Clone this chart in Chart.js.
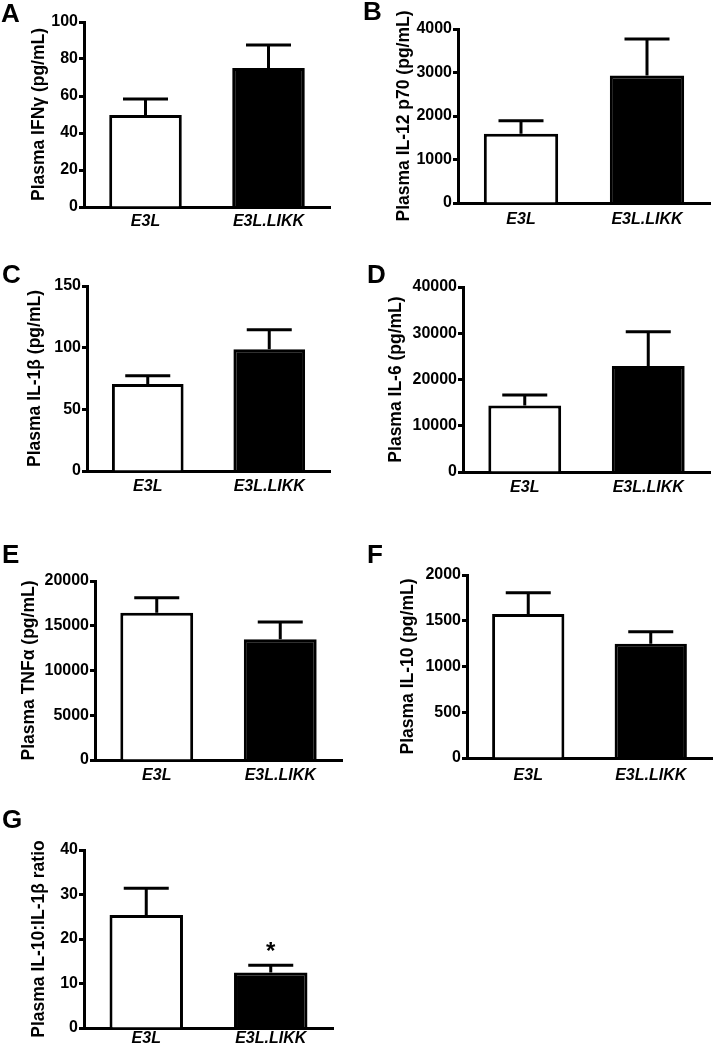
<!DOCTYPE html>
<html lang="en">
<head>
<meta charset="UTF-8">
<title>Plasma cytokines: E3L vs E3L.LIKK</title>
<script src="https://cdn.jsdelivr.net/npm/chart.js"></script>
<style>
    body { margin: 0; background: #fff; }
    .figure { position: relative; width: 717px; height: 1050px; overflow: hidden; }
    .figure canvas { position: absolute; }
    .letter { position: absolute; font-family: 'Liberation Sans', Arial, sans-serif; font-weight: bold; font-size: 26px; line-height: 26px; color: #000; z-index: 2; }
</style>
</head>
<body>
<div class="figure" id="figure"></div>
<script>
    const groups = ['E3L', 'E3L.LIKK'];

    const ifngMean = [49.7, 75.1];
    const ifngSem = [8.7, 12.5];
    const ifngTicks = [0, 20, 40, 60, 80, 100];

    const il12Mean = [1590, 2930];
    const il12Sem = [300, 840];
    const il12Ticks = [0, 1000, 2000, 3000, 4000];

    const il1bMean = [70.5, 98.7];
    const il1bSem = [6.8, 15.9];
    const il1bTicks = [0, 50, 100, 150];

    const il6Mean = [14400, 22900];
    const il6Sem = [2250, 7400];
    const il6Ticks = [0, 10000, 20000, 30000, 40000];

    const tnfMean = [16460, 13480];
    const tnfSem = [1680, 1940];
    const tnfTicks = [0, 5000, 10000, 15000, 20000];

    const il10Mean = [1575, 1250];
    const il10Sem = [230, 130];
    const il10Ticks = [0, 500, 1000, 1500, 2000];

    const ratioMean = [25.4, 12.5];
    const ratioSem = [6.0, 1.6];
    const ratioTicks = [0, 10, 20, 30, 40];
    const ratioMarks = ['', '*'];

    const FONT = "'Liberation Sans', Arial, sans-serif";
    const TITLE_SIZE = 17.5;
    const LINE = 3;

    // box = canvas [x, y, w, h]; area = chart area [left, top, right, bottom]
    const panels = [
        { letter: 'A', at: [1, 0], title: 'Plasma IFNγ (pg/mL)', mean: ifngMean, sem: ifngSem, ticks: ifngTicks,
          box: [0, 0, 358, 250], area: [84, 22, 330, 207], titleX: 39, labelPad: 5 },
        { letter: 'B', at: [363, -2], title: 'Plasma IL-12 p70 (pg/mL)', mean: il12Mean, sem: il12Sem, ticks: il12Ticks,
          box: [360, 0, 357, 250], area: [458, 29, 710, 203], titleX: 404, labelPad: 7 },
        { letter: 'C', at: [2, 261], title: 'Plasma IL-1β (pg/mL)', mean: il1bMean, sem: il1bSem, ticks: il1bTicks,
          box: [0, 255, 358, 270], area: [87, 286, 330, 471], titleX: 35, labelPad: 6 },
        { letter: 'D', at: [367, 261], title: 'Plasma IL-6 (pg/mL)', mean: il6Mean, sem: il6Sem, ticks: il6Ticks,
          box: [360, 255, 357, 270], area: [463, 287, 710, 472], titleX: 396, labelPad: 6 },
        { letter: 'E', at: [2, 541], title: 'Plasma TNFα (pg/mL)', mean: tnfMean, sem: tnfSem, ticks: tnfTicks,
          box: [0, 530, 358, 265], area: [95, 581, 342, 760], titleX: 29, labelPad: 6 },
        { letter: 'F', at: [367, 541], title: 'Plasma IL-10 (pg/mL)', mean: il10Mean, sem: il10Sem, ticks: il10Ticks,
          box: [360, 530, 357, 265], area: [467, 575, 712, 758], titleX: 408, labelPad: 8 },
        { letter: 'G', at: [2, 806], title: 'Plasma IL-10:IL-1β ratio', mean: ratioMean, sem: ratioSem, ticks: ratioTicks, marks: ratioMarks,
          box: [0, 800, 358, 250], area: [84, 850, 333, 1028], titleX: 39, labelPad: 1 }
    ];

    // upward-only SEM bars, plus significance mark above the cap
    const errorBars = {
        id: 'errorBars',
        afterDatasetsDraw(chart, args, opts) {
            const ctx = chart.ctx;
            const yScale = chart.scales.y;
            const meta = chart.getDatasetMeta(0);
            ctx.save();
            ctx.strokeStyle = '#000';
            ctx.lineWidth = LINE;
            meta.data.forEach((bar, i) => {
                const top = yScale.getPixelForValue(opts.mean[i] + opts.sem[i]);
                ctx.beginPath();
                ctx.moveTo(bar.x, bar.y);
                ctx.lineTo(bar.x, top);
                ctx.moveTo(bar.x - opts.cap / 2, top);
                ctx.lineTo(bar.x + opts.cap / 2, top);
                ctx.stroke();
                if (opts.marks && opts.marks[i]) {
                    ctx.fillStyle = '#000';
                    ctx.font = 'bold 24px ' + FONT;
                    ctx.textAlign = 'center';
                    ctx.textBaseline = 'alphabetic';
                    ctx.fillText(opts.marks[i], bar.x, top - 6);
                }
            });
            ctx.restore();
        }
    };

    const figure = document.getElementById('figure');

    panels.forEach(p => {
        const [bx, by, bw, bh] = p.box;
        const [left, top, right, bottom] = p.area;

        const canvas = document.createElement('canvas');
        canvas.width = bw;
        canvas.height = bh;
        canvas.style.left = bx + 'px';
        canvas.style.top = by + 'px';
        figure.appendChild(canvas);

        const letter = document.createElement('div');
        letter.className = 'letter';
        letter.textContent = p.letter;
        letter.style.left = p.at[0] + 'px';
        letter.style.top = p.at[1] + 'px';
        figure.appendChild(letter);

        const padLeft = p.titleX - bx - TITLE_SIZE * 1.2 / 2;

        new Chart(canvas, {
            type: 'bar',
            data: {
                labels: groups,
                datasets: [{
                    data: p.mean,
                    backgroundColor: ['#ffffff', '#000000'],
                    borderColor: '#000',
                    borderWidth: LINE,
                    borderSkipped: 'start',
                    barPercentage: 0.59,
                    categoryPercentage: 1
                }]
            },
            options: {
                responsive: false,
                animation: false,
                layout: {
                    padding: { left: padLeft, top: top - by, right: bx + bw - right, bottom: 0 }
                },
                plugins: {
                    legend: { display: false },
                    tooltip: { enabled: false },
                    errorBars: { mean: p.mean, sem: p.sem, cap: 45, marks: p.marks }
                },
                scales: {
                    x: {
                        grid: { display: false, drawTicks: false },
                        border: { display: true, color: '#000', width: LINE },
                        ticks: {
                            color: '#000',
                            padding: p.labelPad,
                            font: { family: FONT, size: 16, weight: 'bold', style: 'italic' }
                        },
                        afterFit: s => { s.height = by + bh - bottom; }
                    },
                    y: {
                        min: p.ticks[0],
                        max: p.ticks[p.ticks.length - 1],
                        ticks: {
                            stepSize: p.ticks[1] - p.ticks[0],
                            color: '#000',
                            padding: 1,
                            font: { family: FONT, size: 16, weight: 'bold' },
                            callback: v => String(v)
                        },
                        grid: { drawOnChartArea: false, drawTicks: true, tickLength: 5, tickWidth: LINE, tickColor: '#000' },
                        border: { display: true, color: '#000', width: LINE },
                        title: {
                            display: true,
                            text: p.title,
                            color: '#000',
                            padding: 0,
                            font: { family: FONT, size: TITLE_SIZE, weight: 'bold' }
                        },
                        afterFit: s => { s.width = left - bx - padLeft; }
                    }
                }
            },
            plugins: [errorBars]
        });
    });
</script>
</body>
</html>
